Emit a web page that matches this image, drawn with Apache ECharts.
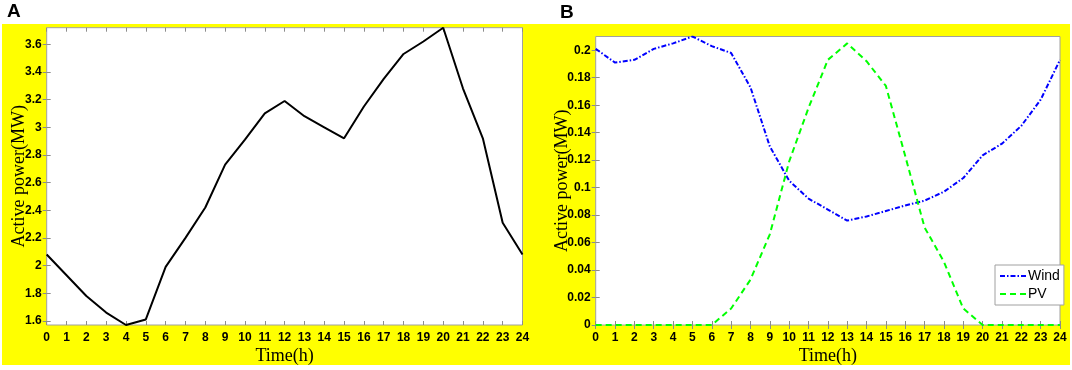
<!DOCTYPE html>
<html>
<head>
<meta charset="utf-8">
<script src="https://cdn.jsdelivr.net/npm/echarts@6/dist/echarts.min.js"></script>
<style>
html,body{margin:0;padding:0;background:#fff;}
#c{width:1072px;height:370px;}
</style>
</head>
<body>
<div id="c"></div>
<script>
// ---- data ----
const hours = [0,1,2,3,4,5,6,7,8,9,10,11,12,13,14,15,16,17,18,19,20,21,22,23,24];
const loadA = [2.08,1.93,1.78,1.66,1.57,1.61,1.99,2.20,2.42,2.73,2.91,3.10,3.19,3.08,3.00,2.92,3.15,3.35,3.53,3.62,3.72,3.28,2.92,2.31,2.08];
const windB = [0.201,0.191,0.193,0.201,0.205,0.210,0.203,0.198,0.173,0.130,0.105,0.092,0.084,0.076,0.079,0.083,0.087,0.0905,0.097,0.107,0.1235,0.132,0.145,0.164,0.193];
const pvB   = [0,0,0,0,0,0,0,0.012,0.033,0.066,0.119,0.158,0.193,0.205,0.192,0.174,0.123,0.071,0.046,0.012,0,0,0,0,0];
const yTicksA = [1.6,1.8,2.0,2.2,2.4,2.6,2.8,3.0,3.2,3.4,3.6];
const yTicksB = [0,0.02,0.04,0.06,0.08,0.10,0.12,0.14,0.16,0.18,0.20];
const seriesNames = ['Wind','PV'];
const panelTitles = ['A','B'];
const xName = 'Time(h)';
const yName = 'Active power(MW)';

const chart = echarts.init(document.getElementById('c'), null, {renderer:'canvas'});
const fmt = v => String(parseFloat((+v).toFixed(3)));
const tickCol = '#8c8c8c';
const labelFont = {fontFamily:'Liberation Sans', fontSize:12, fontWeight:'bold', color:'#000'};
const nameFont = {fontFamily:'Liberation Serif', fontSize:18, color:'#000'};

function xAxes(grid, nameGap){
  return [
    {gridIndex:grid, type:'value', min:0, max:24, interval:1, position:'bottom',
     name:xName, nameLocation:'middle', nameGap:nameGap, nameMoveOverlap:false, nameTextStyle:nameFont,
     axisLine:{show:false}, splitLine:{show:false},
     axisTick:{inside:true, length:4, lineStyle:{color:tickCol}},
     axisLabel:Object.assign({margin:7, formatter:fmt}, labelFont)},
    {gridIndex:grid, type:'value', min:0, max:24, interval:1, position:'top',
     axisLine:{show:false}, splitLine:{show:false}, axisLabel:{show:false},
     axisTick:{inside:true, length:4, lineStyle:{color:tickCol}}}
  ];
}
function yAxes(grid, mn, mx, ticks, nameGap){
  return [
    {gridIndex:grid, type:'value', min:mn, max:mx, position:'left',
     name:yName, nameLocation:'middle', nameGap:nameGap, nameMoveOverlap:false, nameRotate:90, nameTextStyle:nameFont,
     axisLine:{show:false}, splitLine:{show:false},
     axisTick:{inside:true, length:4, customValues:ticks, lineStyle:{color:tickCol}},
     axisLabel:Object.assign({margin:5, customValues:ticks, formatter:fmt}, labelFont)},
    {gridIndex:grid, type:'value', min:mn, max:mx, position:'right',
     axisLine:{show:false}, splitLine:{show:false}, axisLabel:{show:false},
     axisTick:{inside:true, length:4, customValues:ticks, lineStyle:{color:tickCol}}}
  ];
}

const minA = Math.min(...loadA), maxA = Math.max(...loadA);
const maxB = Math.max(...windB, ...pvB);

const option = {
  backgroundColor:'#fff',
  animation:false,
  graphic:[
    {type:'rect', z:-10, silent:true, shape:{x:2, y:24, width:1068, height:341}, style:{fill:'#ffff00'}},
    {type:'text', left:7, top:2, style:{text:panelTitles[0], font:'bold 19px "Liberation Sans"', fill:'#000'}},
    {type:'text', left:560, top:3, style:{text:panelTitles[1], font:'bold 19px "Liberation Sans"', fill:'#000'}}
  ],
  grid:[
    {left:46.7, top:27.7, right:549.5, bottom:43.3, show:true, backgroundColor:'#fff', borderColor:'#a0a0a0', borderWidth:1},
    {left:595.7, top:36.5, right:12, bottom:41, show:true, backgroundColor:'#fff', borderColor:'#a0a0a0', borderWidth:1}
  ],
  xAxis:[...xAxes(0, 22), ...xAxes(1, 22)],
  yAxis:[...yAxes(0, minA, maxA, yTicksA, 18), ...yAxes(1, 0, maxB, yTicksB, 24)],
  legend:{
    left:995, top:265, orient:'vertical', itemGap:4, padding:[4,4,4,4],
    backgroundColor:'#fff', borderColor:'#a0a0a0', borderWidth:1, borderRadius:0,
    itemWidth:26, itemHeight:10,
    itemStyle:{opacity:0},
    textStyle:{fontFamily:'Liberation Sans', fontSize:14, color:'#000', padding:[0,0,0,-3]},
    data:seriesNames
  },
  series:[
    {type:'line', xAxisIndex:0, yAxisIndex:0, symbol:'none', silent:true,
     data:hours.map((h,i)=>[h, loadA[i]]), lineStyle:{color:'#000', width:2}},
    {name:seriesNames[0], type:'line', xAxisIndex:2, yAxisIndex:2, symbol:'none', silent:true,
     data:hours.map((h,i)=>[h, windB[i]]), itemStyle:{color:'#0000ff'},
     lineStyle:{color:'#0000ff', width:2, type:[5,2,1.5,2]}},
    {name:seriesNames[1], type:'line', xAxisIndex:2, yAxisIndex:2, symbol:'none', silent:true,
     data:hours.map((h,i)=>[h, pvB[i]]), itemStyle:{color:'#00ff00'},
     lineStyle:{color:'#00ff00', width:2, type:[6,4]}}
  ]
};
chart.setOption(option);
</script>
</body>
</html>
